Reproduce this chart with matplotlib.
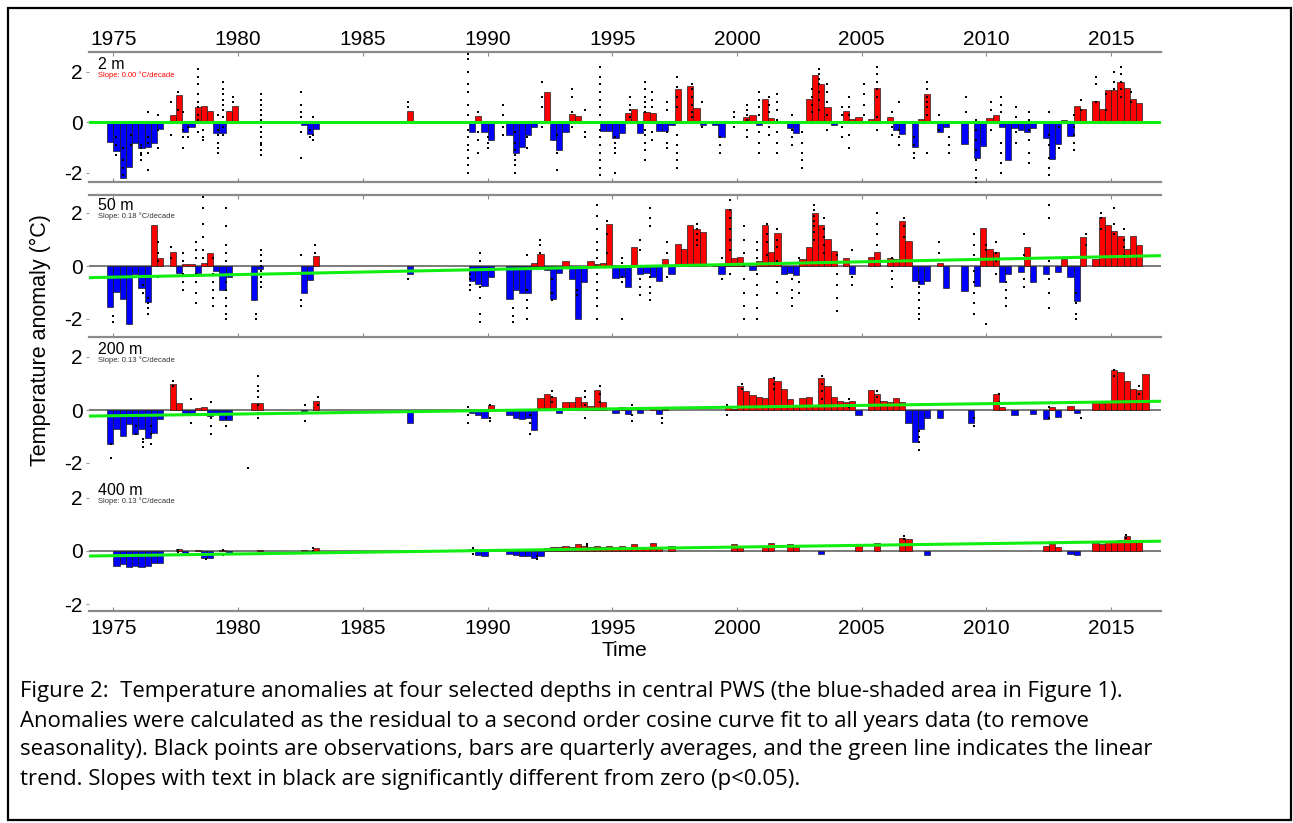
import matplotlib
matplotlib.use("Agg")
import matplotlib.pyplot as plt
from matplotlib.patches import Rectangle

# ---- data ----
depths = ["2 m", "50 m", "200 m", "400 m"]
slopes = ["Slope: 0.00 \u00b0C/decade", "Slope: 0.18 \u00b0C/decade",
          "Slope: 0.13 \u00b0C/decade", "Slope: 0.13 \u00b0C/decade"]
slope_colors = ["red", "#333333", "#333333", "#333333"]
trend_start = [0.0, -0.44, -0.23, -0.19]   # value of the linear trend at 1974
trend_end = [0.0, 0.39, 0.33, 0.37]        # value at 2017
year_ticks = [1975, 1980, 1985, 1990, 1995, 2000, 2005, 2010, 2015]

# quarterly averages
q_2m = [
    (1974.875, -0.79), (1975.125, -1.13), (1975.375, -2.2), (1975.625, -1.75),
    (1975.875, -0.8), (1976.125, -1.02), (1976.375, -0.97), (1976.625, -0.82),
    (1976.875, -0.27), (1977.375, 0.3), (1977.625, 1.07), (1977.875, -0.38),
    (1978.125, -0.2), (1978.375, 0.6), (1978.625, 0.63), (1978.875, 0.46),
    (1979.125, -0.42), (1979.375, -0.44), (1979.625, 0.46), (1979.875, 0.65),
    (1980.875, 0.05), (1982.625, -0.1), (1982.875, -0.47), (1983.125, -0.26),
    (1986.875, 0.46), (1989.375, -0.37), (1989.625, 0.25), (1989.875, -0.37),
    (1990.125, -0.7), (1990.875, -0.5), (1991.125, -1.2), (1991.375, -0.96),
    (1991.625, -0.5), (1991.875, -0.2), (1992.375, 1.21), (1992.625, -0.7),
    (1992.875, -1.09), (1993.125, -0.37), (1993.375, 0.33), (1993.625, 0.25),
    (1993.875, 0.03), (1994.625, -0.33), (1994.875, -0.33), (1995.125, -0.63),
    (1995.375, -0.41), (1995.625, 0.38), (1995.875, 0.51), (1996.125, -0.43),
    (1996.375, 0.39), (1996.625, 0.36), (1996.875, -0.33), (1997.125, -0.33),
    (1997.375, -0.1), (1997.625, 1.3), (1998.125, 1.43), (1998.375, 0.55),
    (1998.625, -0.1), (1999.125, -0.1), (1999.375, -0.59), (2000.125, 0.03),
    (2000.375, 0.22), (2000.625, 0.29), (2000.875, -0.12), (2001.125, 0.91),
    (2001.375, 0.16), (2001.625, 0.04), (2002.125, -0.24), (2002.375, -0.43),
    (2002.875, 0.91), (2003.125, 1.85), (2003.375, 1.5), (2003.625, 0.62),
    (2003.875, -0.1), (2004.375, 0.45), (2004.625, 0.13), (2004.875, 0.2),
    (2005.375, 0.12), (2005.625, 1.36), (2006.125, 0.19), (2006.375, -0.32),
    (2006.625, -0.48), (2007.125, -0.96), (2007.375, 0.12), (2007.625, 1.1),
    (2008.125, -0.38), (2008.375, -0.2), (2009.125, -0.86), (2009.625, -1.4),
    (2009.875, -0.92), (2010.125, 0.16), (2010.375, 0.3), (2010.625, -0.2),
    (2010.875, -1.5), (2011.125, -0.22), (2011.375, -0.3), (2011.625, -0.38),
    (2011.875, -0.22), (2012.375, -0.62), (2012.625, -1.46), (2012.875, -0.87),
    (2013.125, 0.1), (2013.375, -0.56), (2013.625, 0.65), (2013.875, 0.54),
    (2014.375, 0.85), (2014.625, 0.54), (2014.875, 1.26), (2015.125, 1.26),
    (2015.375, 1.58), (2015.625, 1.37), (2015.875, 0.92), (2016.125, 0.78),
]
q_50m = [
    (1974.875, -1.55), (1975.125, -0.97), (1975.375, -1.24), (1975.625, -2.2),
    (1975.875, -0.3), (1976.125, -0.82), (1976.375, -1.37), (1976.625, 1.53),
    (1976.875, 0.3), (1977.375, 0.53), (1977.625, -0.26), (1977.875, 0.08),
    (1978.125, 0.08), (1978.375, -0.28), (1978.625, 0.13), (1978.875, 0.49),
    (1979.125, -0.18), (1979.375, -0.91), (1979.625, -0.42), (1980.625, -1.3),
    (1980.875, -0.1), (1982.625, -1.0), (1982.875, -0.52), (1983.125, 0.39),
    (1986.875, -0.31), (1989.375, -0.57), (1989.625, -0.68), (1989.875, -0.74),
    (1990.125, -0.42), (1990.875, -1.23), (1991.125, -0.91), (1991.375, -1.0),
    (1991.625, -1.0), (1991.875, 0.13), (1992.125, 0.45), (1992.375, -0.16),
    (1992.625, -1.26), (1992.875, -0.26), (1993.125, 0.17), (1993.375, -0.48),
    (1993.625, -2.0), (1993.875, -0.61), (1994.125, 0.17), (1994.375, 0.08),
    (1994.625, 0.1), (1994.875, 1.6), (1995.125, -0.44), (1995.375, -0.42),
    (1995.625, -0.81), (1995.875, 0.73), (1996.125, -0.29), (1996.375, -0.26),
    (1996.625, -0.42), (1996.875, -0.58), (1997.125, 0.26), (1997.375, -0.31),
    (1997.625, 0.83), (1997.875, 0.66), (1998.125, 1.55), (1998.375, 1.39),
    (1998.625, 1.29), (1999.125, 0.05), (1999.375, -0.29), (1999.625, 2.14),
    (1999.875, 0.3), (2000.125, 0.34), (2000.625, -0.16), (2000.875, 0.2),
    (2001.125, 1.55), (2001.375, 0.52), (2001.625, 1.26), (2001.875, -0.29),
    (2002.125, -0.26), (2002.375, -0.33), (2002.625, 0.26), (2002.875, 0.73),
    (2003.125, 2.0), (2003.375, 1.55), (2003.625, 1.02), (2003.875, 0.56),
    (2004.375, 0.3), (2004.625, -0.29), (2005.375, 0.34), (2005.625, 0.52),
    (2006.125, 0.3), (2006.375, 0.25), (2006.625, 1.68), (2006.875, 0.96),
    (2007.125, -0.58), (2007.375, -0.68), (2007.625, -0.58), (2008.125, 0.1),
    (2008.375, -0.84), (2009.125, -0.94), (2009.625, -0.75), (2009.875, 1.44),
    (2010.125, 0.66), (2010.375, 0.52), (2010.625, -0.62), (2010.875, -0.29),
    (2011.375, -0.22), (2011.625, 0.7), (2011.875, -0.62), (2012.375, -0.29),
    (2012.875, -0.22), (2013.125, 0.26), (2013.375, -0.42), (2013.625, -1.31),
    (2013.875, 1.09), (2014.375, 0.26), (2014.625, 1.84), (2014.875, 1.55),
    (2015.125, 1.31), (2015.375, 1.15), (2015.625, 0.63), (2015.875, 1.15),
    (2016.125, 0.79),
]
q_200m = [
    (1974.875, -1.3), (1975.125, -0.73), (1975.375, -0.98), (1975.625, -0.54),
    (1975.875, -0.92), (1976.125, -0.73), (1976.375, -1.04), (1976.625, -0.86),
    (1976.875, -0.35), (1977.375, 0.97), (1977.625, 0.28), (1977.875, -0.14),
    (1978.125, -0.16), (1978.375, 0.09), (1978.625, 0.11), (1978.875, -0.23),
    (1979.125, -0.14), (1979.375, -0.39), (1979.625, -0.39), (1980.625, 0.28),
    (1980.875, 0.28), (1982.625, -0.05), (1983.125, 0.34), (1986.875, -0.48),
    (1989.375, -0.1), (1989.625, -0.2), (1989.875, -0.3), (1990.125, 0.2),
    (1990.875, -0.2), (1991.125, -0.3), (1991.375, -0.35), (1991.625, -0.3),
    (1991.875, -0.75), (1992.125, 0.45), (1992.375, 0.6), (1992.625, 0.5),
    (1992.875, -0.1), (1993.125, 0.3), (1993.375, 0.3), (1993.625, 0.5),
    (1993.875, 0.3), (1994.125, 0.15), (1994.375, 0.75), (1994.625, 0.3),
    (1995.125, -0.1), (1995.375, 0.1), (1995.625, -0.15), (1996.125, -0.1),
    (1996.625, 0.1), (1996.875, -0.15), (1997.125, 0.05), (1999.625, 0.1),
    (1999.875, 0.05), (2000.125, 0.9), (2000.375, 0.7), (2000.625, 0.55),
    (2000.875, 0.5), (2001.125, 0.45), (2001.375, 1.2), (2001.625, 1.1),
    (2001.875, 0.8), (2002.125, 0.4), (2002.375, 0.2), (2002.625, 0.45),
    (2002.875, 0.5), (2003.125, 0.15), (2003.375, 1.2), (2003.625, 0.9),
    (2003.875, 0.5), (2004.125, 0.35), (2004.375, 0.3), (2004.625, 0.35),
    (2004.875, -0.2), (2005.375, 0.75), (2005.625, 0.6), (2005.875, 0.35),
    (2006.125, 0.3), (2006.375, 0.45), (2006.625, 0.3), (2006.875, -0.5),
    (2007.125, -1.2), (2007.375, -0.7), (2007.625, -0.3), (2008.125, -0.3),
    (2009.375, -0.5), (2010.375, 0.6), (2010.625, 0.1), (2011.125, -0.2),
    (2011.875, -0.15), (2012.375, -0.35), (2012.625, 0.1), (2012.875, -0.25),
    (2013.375, 0.15), (2013.625, -0.1), (2014.375, 0.3), (2014.625, 0.25),
    (2014.875, 0.3), (2015.125, 1.5), (2015.375, 1.45), (2015.625, 1.1),
    (2015.875, 0.8), (2016.125, 0.75), (2016.375, 1.35),
]
q_400m = [
    (1975.125, -0.55), (1975.375, -0.5), (1975.625, -0.6), (1975.875, -0.55),
    (1976.125, -0.6), (1976.375, -0.55), (1976.625, -0.45), (1976.875, -0.45),
    (1977.625, 0.06), (1977.875, -0.06), (1978.375, 0.05), (1978.625, -0.25),
    (1978.875, -0.25), (1979.375, 0.02), (1979.625, -0.06), (1980.875, 0.05),
    (1982.625, 0.05), (1982.875, -0.06), (1983.125, 0.1), (1989.375, 0.08),
    (1989.625, -0.15), (1989.875, -0.2), (1990.875, -0.1), (1991.125, -0.15),
    (1991.375, -0.2), (1991.625, -0.2), (1991.875, -0.25), (1992.125, -0.2),
    (1992.375, 0.1), (1992.625, 0.15), (1992.875, 0.15), (1993.125, 0.2),
    (1993.375, 0.15), (1993.625, 0.25), (1993.875, 0.2), (1994.125, 0.15),
    (1994.375, 0.2), (1994.625, 0.15), (1994.875, 0.2), (1995.125, 0.15),
    (1995.375, 0.2), (1995.625, 0.15), (1995.875, 0.25), (1996.125, 0.15),
    (1996.375, 0.1), (1996.625, 0.3), (1996.875, 0.15), (1997.375, 0.2),
    (1999.875, 0.25), (2000.125, 0.2), (2001.125, 0.2), (2001.375, 0.3),
    (2002.125, 0.25), (2002.375, 0.15), (2003.375, -0.1), (2004.875, 0.25),
    (2005.625, 0.3), (2006.625, 0.5), (2006.875, 0.45), (2007.625, -0.15),
    (2012.375, 0.2), (2012.625, 0.25), (2012.875, 0.15), (2013.375, -0.1),
    (2013.625, -0.15), (2014.375, 0.3), (2014.625, 0.25), (2014.875, 0.35),
    (2015.125, 0.35), (2015.375, 0.4), (2015.625, 0.55), (2015.875, 0.35),
    (2016.125, 0.4),
]

# individual observations: (time, [anomalies])
obs_2m = [
    (1975.1, [-0.9, -1.3, -0.6]), (1975.4, [-1.8, -2.1, -1.5, -1.0]),
    (1975.7, [-0.5, -0.9]), (1976.1, [-0.9, -1.2, -1.3, -1.5, -1.0]),
    (1976.4, [-0.6, -0.8, -1.2, -1.9, 0.4]), (1976.8, [-0.3, -1.0, 0.3]),
    (1977.3, [0.8, -0.5]), (1977.6, [1.2, 0.5]), (1977.8, [0.4, -0.3, -0.6, -1.0]),
    (1978.0, [0.0, -0.2, -0.6]), (1978.4, [0.3, 0.6, 0.8, 1.1, 1.5, 1.8, 2.1, 0.1, -0.4]),
    (1978.6, [0.0, -0.3, -0.6, -0.7]), (1979.2, [-0.3, -0.5, -0.8, -1.0, -1.2, 0.3]),
    (1979.4, [0.2, 0.5, 0.7, 0.9, 1.1, 1.3, 1.6, -0.2, -0.5]), (1979.8, [0.8, 1.0]),
    (1980.9, [-1.3, -1.1, -0.9, -0.8, -0.6, -0.4, -0.2, 0.1, 0.3, 0.5, 0.7, 0.9, 1.1]),
    (1982.5, [1.2, 0.7, 0.4, 0.2, -0.4, -1.4]), (1982.9, [-0.3, -0.6]),
    (1983.0, [-0.5, -0.7, 0.2]), (1986.8, [0.6, 0.8]),
    (1989.2, [-2.0, -1.7, -1.4, -1.1, -0.9, -0.6, -0.3, 0.0, 0.3, 0.7, 1.2, 1.5, 2.0, 2.5, 2.7]),
    (1989.6, [0.4, -0.4, -0.7, -1.2]), (1990.0, [-0.6, -0.8, -1.0]),
    (1990.6, [0.7, 0.3, -0.2, -0.5]), (1991.1, [-0.8, -1.1, -1.3, -1.5, -1.7, -2.0, -0.4]),
    (1991.6, [-0.6, -1.0]), (1992.2, [1.6, 1.0, 0.6, -0.2]), (1992.8, [-0.5, -1.2, -1.9]),
    (1993.4, [1.3, 1.0, 0.4, -0.2]), (1993.9, [0.5, -0.4, -0.6]),
    (1994.5, [2.2, 1.8, 1.5, 1.2, 0.9, 0.6, 0.3, 0.0, -0.3, -0.6, -0.9, -1.2, -1.5, -1.8, -2.1]),
    (1995.1, [-0.6, -0.8, -1.0, -1.2, -2.0]), (1995.7, [0.5, 0.7, 1.0, 0.2]),
    (1996.3, [1.6, 1.3, 1.0, 0.8, 0.6, 0.4, -0.3, -0.5, -0.8, -1.1, -1.5]),
    (1996.6, [1.2, 0.9, 0.6, -0.4, -0.7]), (1997.2, [0.8, 0.5, -0.4, -0.8, -1.0]),
    (1997.6, [1.8, 1.4, 1.0, 0.6, 0.0, -0.5, -0.9, -1.2, -1.5, -1.8]),
    (1998.2, [1.5, 1.3, 1.0, 0.7, 0.4, 0.2]), (1998.6, [0.8, -0.2]),
    (1999.3, [-0.6, -0.9, -1.2]), (1999.9, [0.4, 0.2, -0.2]),
    (2000.4, [0.7, 0.5, 0.3, 0.1, -0.3, -0.6]),
    (2000.9, [1.2, 0.9, 0.6, 0.3, 0.0, -0.4, -0.8, -1.2]),
    (2001.3, [1.0, 0.7, 0.4, -0.2, -0.5]), (2001.6, [1.1, 0.8, 0.5, 0.1, -0.4, -0.8, -1.2]),
    (2002.2, [0.3, -0.3, -0.6, -0.9]), (2002.6, [-0.4, -0.8, -1.2, -1.5, -1.8]),
    (2003.0, [1.3, 1.0, 0.7, 0.4]), (2003.3, [2.1, 1.9, 1.7, 1.5, 1.2, 0.9, 0.5]),
    (2003.6, [1.5, 1.2, 0.8, 0.3, -0.3]), (2004.2, [0.6, 0.3, -0.2, -0.6]),
    (2004.5, [1.0, 0.6, 0.3, -0.5, -1.0]), (2005.1, [1.5, 1.1, 0.7, 0.3]),
    (2005.6, [2.2, 1.9, 1.6, 1.3, 1.0, 0.2, -0.3]), (2006.2, [0.4, -0.2, -0.5]),
    (2006.5, [0.8, -0.3, -0.6, -0.9]), (2007.1, [-0.6, -0.9, -1.2, -1.4]),
    (2007.6, [1.6, 1.3, 1.0, 0.8, 0.6, 0.3, -1.2]), (2008.1, [0.3, -0.3]),
    (2008.5, [-0.6, -0.9, -1.2]), (2009.2, [1.0, 0.4]),
    (2009.6, [0.1, -0.3, -0.7, -1.1, -1.5, -1.9, -2.2, -2.4]),
    (2010.2, [0.8, 0.5, -0.3]), (2010.6, [1.0, 0.7, 0.4, -0.8, -1.2, -1.6, -2.0]),
    (2011.2, [0.6, 0.2, -0.4, -0.8]), (2011.7, [0.4, 0.1, -0.3, -0.7, -1.2, -1.6]),
    (2012.5, [-0.5, -0.9, -1.4, -1.8, -2.1, 0.4]), (2012.9, [-0.2, -1.0]),
    (2013.5, [0.3, -0.2, -0.5, -0.8, -1.1]), (2013.8, [0.9, 0.5]),
    (2014.4, [1.8, 1.5, 0.8]), (2014.8, [0.5, 1.1]), (2015.1, [2.0, 1.6, 1.3]),
    (2015.4, [2.2, 1.9, 1.6, 1.3, 1.0]), (2015.8, [1.2, 0.8]),
]
obs_50m = [
    (1975.0, [-1.9, -2.1]), (1976.2, [-0.7, -1.0]), (1976.4, [-1.2, -1.4, -1.6, -1.8]),
    (1976.8, [0.9, 0.5, 0.2, -0.4]), (1977.3, [0.7, 0.3]),
    (1977.8, [0.5, 0.2, -0.3, -0.6, -0.9]), (1978.3, [0.9, 0.6, 0.3, -0.3, -0.6, -1.0, -1.4]),
    (1978.6, [2.6, 2.2, 1.6, 1.1, 0.6, 0.3]), (1979.0, [0.3, -0.3, -0.6, -0.9, -1.2, -1.5]),
    (1979.5, [2.8, 2.2, 1.5, 0.8, 0.5, 0.2, -0.6, -0.9, -1.2, -1.5, -1.8, -2.0]),
    (1980.7, [-1.8, -2.0]), (1980.9, [0.6, 0.4, 0.2, 0.0, -0.2, -0.4, -0.6, -0.8]),
    (1982.5, [0.4, -0.3, -1.3, -1.5]), (1983.1, [0.8, 0.5]), (1986.8, [-0.5]),
    (1989.3, [-0.3, -0.5, -0.7, -0.9]), (1989.7, [0.5, 0.2, -0.8, -1.2, -1.8, -2.1]),
    (1991.0, [-1.6, -1.9, -2.1]), (1991.6, [0.4, -0.9, -1.3, -1.6, -2.0]),
    (1992.1, [1.0, 0.8, 0.5]), (1992.6, [-0.5, -1.0, -1.3]), (1993.6, [-0.9, -1.1]),
    (1994.4, [2.3, 1.9, 1.4, 0.9, 0.6, 0.3, 0.0, -0.3, -0.6, -0.9, -1.2, -1.5, -2.0]),
    (1994.8, [1.7, 1.2, 0.5]), (1995.4, [0.3, 0.1, -0.4, -0.6, -2.0]),
    (1996.1, [1.0, 0.6, -0.5, -0.8, -1.1]), (1996.5, [2.2, 1.8, 1.5, -0.4, -0.8, -1.0, -1.3]),
    (1997.2, [0.9, 0.5, -0.4]), (1998.4, [1.6, 1.4, 1.2, 1.0, 0.8]), (1999.4, [0.3, -0.5]),
    (1999.7, [2.5, 2.1, 1.8, 1.4, 1.0, 0.6, -0.3]),
    (2000.3, [1.5, 1.0, 0.5, 0.0, -0.5, -1.0, -1.5, -2.0]),
    (2000.8, [0.9, 0.6, 0.3, -0.3, -0.7, -1.1, -1.6, -2.0]), (2001.2, [1.6, 1.2, 0.9, 0.4]),
    (2001.6, [1.4, 1.0, 0.7, 0.2, -0.6, -1.0]), (2002.2, [-0.5, -0.9, -1.2, -1.5]),
    (2002.5, [0.3, -0.6, -1.0]), (2003.1, [2.3, 2.1, 1.9, 1.7, 1.5, 1.3, 1.0]),
    (2003.5, [1.8, 1.4, 1.1, 0.8, 0.5]), (2004.0, [0.4, -0.3, -0.7, -1.2, -1.7]),
    (2004.6, [0.6, -0.4, -0.7]), (2005.6, [2.0, 1.6, 1.2, 0.8]),
    (2006.2, [0.3, -0.2, -0.5, -0.8]), (2006.7, [1.8, 1.5, 1.1]),
    (2007.3, [-0.6, -0.8, -1.0, -1.3, -1.6, -1.8, -2.0]), (2008.1, [0.5, 0.9]),
    (2009.5, [1.2, 0.8, 0.4, -0.2, -0.6, -1.0, -1.4, -1.8]), (2010.0, [0.8, 0.6, -2.2]),
    (2010.4, [0.9, 0.5, 0.2, -0.3]), (2010.8, [-0.6, -0.9, -1.2, -1.5]),
    (2011.5, [1.2, 0.4, -0.5, -0.8]), (2012.5, [2.3, 1.8, 0.2, -0.5, -1.0, -1.6]),
    (2013.6, [-1.0, -1.4, -1.8, -2.0]), (2014.0, [1.2, 0.8]), (2014.6, [2.0, 1.8, 1.4]),
    (2015.1, [2.2, 1.6, 1.2]), (2015.5, [1.4, 1.0, 0.7, 0.4]),
]
obs_200m = [
    (1974.9, [-1.8, -1.3]), (1975.9, [-0.6, -0.9]), (1976.2, [-1.2, -1.4, -1.1]),
    (1976.5, [-0.9, -1.3, -0.6]), (1977.4, [1.1, 0.9]), (1978.1, [0.4, -0.2, -0.5]),
    (1978.9, [0.3, -0.3, -0.6, -0.9]), (1979.5, [-0.6, -0.3]),
    (1980.8, [1.3, 0.9, 0.7, 0.5, 0.2, -0.1, -0.3]), (1982.7, [0.2, -0.4]),
    (1983.2, [0.5, 0.2]), (1980.4, [-2.2, -2.7]), (1985.4, [-2.7]),
    (1989.2, [-0.2, -0.5, 0.1]), (1990.1, [0.2, -0.3, -0.4]), (1991.7, [-0.5, -0.9, -0.2]),
    (1992.6, [0.7, 0.5, 0.3]), (1993.9, [0.7, 0.5, 0.2, -0.3]), (1994.5, [0.9, 0.6, 0.3]),
    (1995.8, [0.2, -0.2, -0.4]), (1997.0, [-0.3, -0.5]), (1999.6, [0.2, -0.2]),
    (2000.2, [0.8, 1.0]), (2001.5, [1.2, 1.0, 0.8]), (2003.4, [1.3, 1.0, 0.7, 0.4]),
    (2004.5, [0.4, 0.1]), (2005.6, [0.7, 0.5]), (2007.3, [-0.8, -1.2, -1.5, -1.0]),
    (2009.5, [-0.3, -0.6]), (2010.5, [0.6, 0.3]), (2012.5, [0.1, -0.3]),
    (2013.8, [-0.3, 0.3]), (2015.1, [1.5, 1.3]), (2016.1, [0.9, 0.6]),
]
obs_400m = [
    (1977.6, [0.05, -0.05]), (1978.7, [-0.1, -0.3]), (1979.4, [0.05, -0.15]),
    (1983.0, [0.0, 0.1]), (1989.4, [0.1, -0.1]), (1992.0, [-0.2, -0.3]),
    (1994.0, [0.2, 0.25]), (2006.7, [0.55, 0.45]), (2015.6, [0.6, 0.5]),
]

quarters = [q_2m, q_50m, q_200m, q_400m]
observations = [obs_2m, obs_50m, obs_200m, obs_400m]

caption = [
    "Figure 2:  Temperature anomalies at four selected depths in central PWS (the blue-shaded area in Figure 1).",
    "Anomalies were calculated as the residual to a second order cosine curve fit to all years data (to remove",
    "seasonality). Black points are observations, bars are quarterly averages, and the green line indicates the linear",
    "trend. Slopes with text in black are significantly different from zero (p<0.05).",
]

# ---- layout (pixels) ----
W, H = 1293, 823
x_left, x_right = 88.5, 1161
# (top, zero line, bottom, pixels per degree)
panel_px = [(52, 122.3, 182.3, 25.3), (195, 266, 337, 26.5),
            (338, 410, 480, 26.5), (480, 551, 611, 26.5)]
show_top = [True, True, False, False]
show_bottom = [True, True, False, True]

plt.rcParams['font.family'] = ['Liberation Sans', 'DejaVu Sans']
fig = plt.figure(figsize=(W / 100, H / 100), dpi=100)

spine_col = '#8a8a8a'
for i in range(4):
    top, zero, bot, unit = panel_px[i]
    ax = fig.add_axes([x_left / W, 1 - bot / H, (x_right - x_left) / W, (bot - top) / H])
    ax.set_xlim(1974, 2017)
    ax.set_ylim(-(bot - zero) / unit, (zero - top) / unit)
    ax.patch.set_alpha(0)

    ax.axhline(0, color='#707070', lw=1.3, zorder=1)
    for t, v in quarters[i]:
        ax.bar(t, v, width=0.25, color='red' if v > 0 else '#0000ff',
               edgecolor='#202020', linewidth=0.5, zorder=2)
    for t, vals in observations[i]:
        ax.plot([t] * len(vals), vals, ls='none', marker='s', ms=1.6,
                color='black', mew=0, zorder=3)
    ax.plot([1974, 2017], [trend_start[i], trend_end[i]], color='#11ee11', lw=2.2, zorder=4)

    ax.text(1974.4, 2.3, depths[i], fontsize=11.5, va='center', ha='left')
    ax.text(1974.4, 1.88, slopes[i], fontsize=5.5, va='center', ha='left',
            color=slope_colors[i])

    for side in ['left', 'right']:
        ax.spines[side].set_visible(False)
    ax.spines['top'].set_visible(show_top[i])
    ax.spines['bottom'].set_visible(show_bottom[i])
    for side in ['top', 'bottom']:
        ax.spines[side].set_color(spine_col)
        ax.spines[side].set_linewidth(1.6)

    ax.set_yticks([-2, 0, 2])
    ax.set_yticklabels(['-2', '0', '2'])
    ax.tick_params(axis='y', length=2, width=0.8, color='#999999', labelsize=15, pad=2)
    ax.set_xticks(year_ticks)
    ax.tick_params(axis='x', direction='in', length=3, color=spine_col,
                   top=show_top[i], bottom=show_bottom[i],
                   labeltop=(i == 0), labelbottom=(i == 3), labelsize=15,
                   pad=2 if i == 0 else 6)
    if i == 3:
        ax.set_xlabel('Time', fontsize=15, labelpad=2)

fig.text(40 / W, 1 - 340 / H, 'Temperature anomaly (\u00b0C)', rotation=90,
         fontsize=15.5, ha='center', va='center')

for k, line in enumerate(caption):
    fig.text(20 / W, 1 - (692 + 29 * k) / H, line, fontsize=15.9,
             family=['Open Sans', 'DejaVu Sans'], ha='left', va='center')

fig.add_artist(Rectangle((8 / W, 1 - 820 / H), 1283 / W, 812 / H, transform=fig.transFigure,
                         fill=False, edgecolor='black', lw=1.6))

fig.savefig('out.png', dpi=100)
